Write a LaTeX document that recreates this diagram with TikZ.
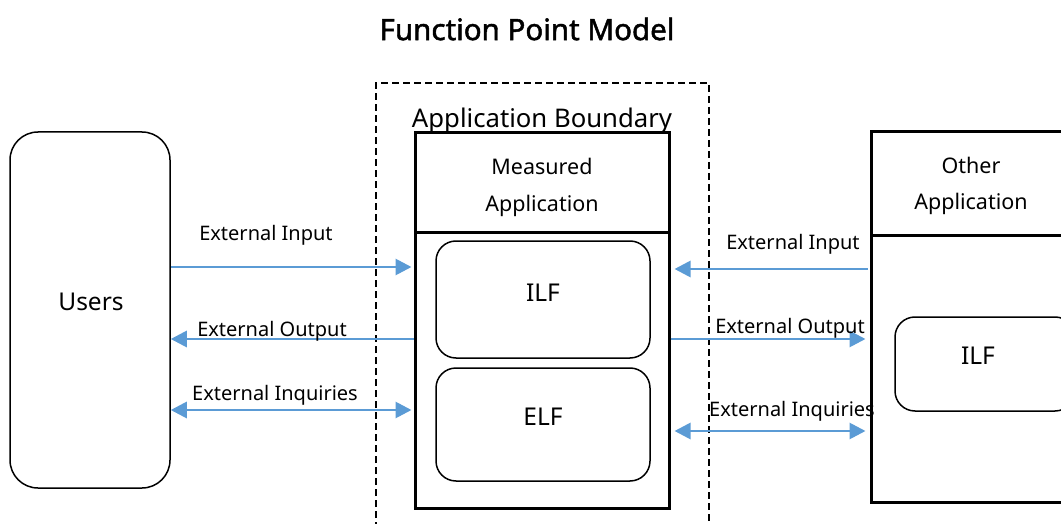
\documentclass[tikz,border=0pt]{standalone}
\usepackage{fontspec}
\setmainfont{Noto Sans}
\newfontfamily\titlefont[FakeBold=1.6]{Noto Sans}
\usetikzlibrary{arrows.meta}
\definecolor{arr}{HTML}{5B9BD5}
\tikzset{
  rbox/.style={draw=black, line width=1.5pt, rounded corners=20pt, inner sep=0pt},
  sbox/.style={draw=black, line width=3pt, inner sep=0pt},
  lbl/.style={font=\fontsize{20}{24}\selectfont, inner sep=0pt},
  hdr/.style={font=\fontsize{21.5}{25}\selectfont, inner sep=0pt},
  big/.style={font=\fontsize{24.5}{28}\selectfont, inner sep=0pt},
  flow/.style={draw=arr, line width=2.8pt, -{Triangle[length=16pt,width=16pt]}},
  bflow/.style={draw=arr, line width=2.8pt, {Triangle[length=16pt,width=16pt]}-{Triangle[length=16pt,width=16pt]}},
}
\begin{document}
\begin{tikzpicture}[x=1pt,y=-1pt]
\useasboundingbox (0,0) rectangle (1061,524);
\clip (0,0) rectangle (1061,524);
\node[font=\fontsize{29.5}{34}\selectfont\titlefont, inner sep=0pt] (title) at (527,29) {Function Point Model};
% users
\node[rbox, rounded corners=28pt, minimum width=160pt, minimum height=356pt] (users) at (90,310) {};
\node[big] (ulbl) at (91,302) {Users};
% boundary
\draw[line width=2.6pt, dash pattern=on 7pt off 4pt] (376,540) -- (376,83) -- (709,83) -- (709,540);
\node[font=\fontsize{25.7}{30}\selectfont, inner sep=0pt] (ab) at (542,121) {Application Boundary};
% measured
\node[sbox, minimum width=254pt, minimum height=375pt] (meas) at (542,320.5) {};
\draw[line width=3pt] (415,232) -- (669,232);
\node[hdr] (m1) at (542,166) {Measured};
\node[hdr] (m2) at (542,206) {Application};
\node[rbox, minimum width=214pt, minimum height=117pt] (ilf) at (543,299.5) {};
\node[big] (ilft) at (543,293) {ILF};
\node[rbox, minimum width=214pt, minimum height=113pt] (elf) at (543,424.5) {};
\node[big] (elft) at (543,417) {ELF};
% other
\node[sbox, minimum width=240pt, minimum height=370pt] (other) at (991,317) {};
\draw[line width=3pt] (871,235) -- (1100,235);
\node[hdr] (o1) at (971,165) {Other};
\node[hdr] (o2) at (971,204) {Application};
\node[rbox, minimum width=180pt, minimum height=94pt] (oilf) at (985,364) {};
\node[big] (oilft) at (978,356) {ILF};
% arrows left
\draw[flow] (users.east |- 0,267) -- ([xshift=-2pt]meas.west |- 0,267);
\node[lbl] (l1) at (266,235) {External Input};
\draw[flow] (meas.west |- 0,339) -- (users.east |- 0,339);
\node[lbl] (l2) at (272,331) {External Output};
\draw[bflow] (users.east |- 0,410) -- ([xshift=-2pt]meas.west |- 0,410);
\node[lbl] (l3) at (275,395) {External Inquiries};
% arrows right
\draw[flow] ([xshift=-2pt]other.west |- 0,269) -- ([xshift=4pt]meas.east |- 0,269);
\node[lbl] (r1) at (793,244) {External Input};
\draw[flow] (meas.east |- 0,339) -- ([xshift=-4pt]other.west |- 0,339);
\node[lbl] (r2) at (790,328) {External Output};
\draw[bflow] ([xshift=4pt]meas.east |- 0,431) -- ([xshift=-4pt]other.west |- 0,431);
\node[lbl] (r3) at (792,411) {External Inquiries};
\end{tikzpicture}
\end{document}
